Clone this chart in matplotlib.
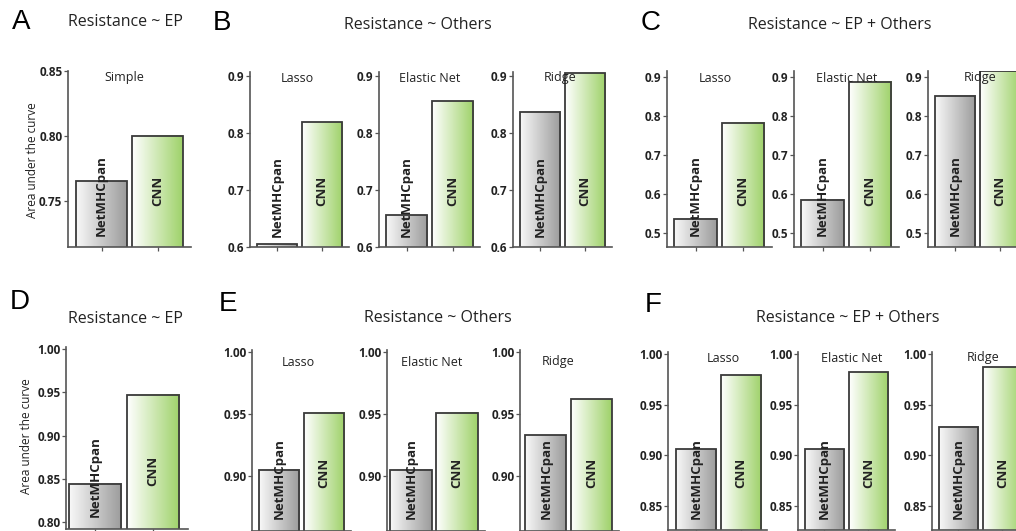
import matplotlib
matplotlib.use("Agg")
import matplotlib.pyplot as plt
import numpy as np
from matplotlib.colors import LinearSegmentedColormap

plt.rcParams['font.family'] = ['Open Sans', 'DejaVu Sans']

# data (AUC values)
models = ['NetMHCpan', 'CNN']
a_simple = [0.765, 0.800]
b_lasso = [0.605, 0.819]
b_enet = [0.656, 0.856]
b_ridge = [0.837, 0.905]
c_lasso = [0.537, 0.782]
c_enet = [0.585, 0.887]
c_ridge = [0.851, 0.915]
d_simple = [0.844, 0.947]
e_lasso = [0.905, 0.951]
e_enet = [0.905, 0.951]
e_ridge = [0.933, 0.962]
f_lasso = [0.906, 0.979]
f_enet = [0.906, 0.982]
f_ridge = [0.928, 0.987]

ticks_a = [0.75, 0.80, 0.85]
ticks_b = [0.6, 0.7, 0.8, 0.9]
ticks_c = [0.5, 0.6, 0.7, 0.8, 0.9]
ticks_d = [0.80, 0.85, 0.90, 0.95, 1.00]
ticks_e = [0.90, 0.95, 1.00]
ticks_f = [0.85, 0.90, 0.95, 1.00]

W, H = 1016, 531
fig = plt.figure(figsize=(W / 100, H / 100), dpi=100)

gray_cmap = LinearSegmentedColormap.from_list('g', ['#f8f8f8', '#9c9c9c'])
green_cmap = LinearSegmentedColormap.from_list('gr', ['#ffffff', '#9fd26a'])
grad = np.linspace(0, 1, 64).reshape(1, -1)
TXT = '#222222'
SPINE = '#555555'


def px_text(x, y, s, **kw):
    fig.text(x / W, 1 - y / H, s, **kw)


def panel(x_spine, ppu, y_top, y_bot, xlim, ylim, values, ticks, fmt):
    left = x_spine / W
    width = ppu * (xlim[1] - xlim[0]) / W
    ax = fig.add_axes([left, 1 - y_bot / H, width, (y_bot - y_top) / H])
    xs = np.arange(len(values))
    bw = 0.9
    for x, v, cm in zip(xs, values, [gray_cmap, green_cmap]):
        ax.imshow(grad, cmap=cm, aspect='auto', interpolation='bilinear',
                  extent=(x - bw / 2, x + bw / 2, 0, v), zorder=1)
    ax.bar(xs, values, width=bw, facecolor='none', edgecolor='#3a3a3a',
           linewidth=1.3, zorder=2)
    ax.set_xlim(*xlim)
    ax.set_ylim(*ylim)
    for sp in ['top', 'right']:
        ax.spines[sp].set_visible(False)
    for sp in ['left', 'bottom']:
        ax.spines[sp].set_color(SPINE)
        ax.spines[sp].set_linewidth(1.2)
    ax.set_xticks(xs)
    ax.set_xticklabels([])
    ax.set_yticks(ticks)
    ax.set_yticklabels([fmt.format(t) for t in ticks])
    ax.tick_params(axis='both', length=3, width=0.9, color=SPINE,
                   labelsize=8.5, labelcolor=TXT, pad=1)
    for lab in ax.get_yticklabels():
        lab.set_fontweight('bold')
    ax.patch.set_alpha(0)
    # model names inside the bars
    for x, name, fy in zip(xs, models, [0.29, 0.32]):
        ax.text(x, fy, name, transform=ax.get_xaxis_transform(),
                rotation=90, ha='center', va='center', fontsize=9.5,
                fontweight='bold', color=TXT, zorder=3)
    return ax


XL = (-0.6, 1.6)

# top row
panel(68, 56, 71, 247, XL, (0.7146, 0.85), a_simple, ticks_a, '{:.2f}')
panel(250, 45, 72, 247, XL, (0.6, 0.907), b_lasso, ticks_b, '{:.1f}')
panel(379, 46, 72, 247, XL, (0.6, 0.907), b_enet, ticks_b, '{:.1f}')
panel(513, 45, 72, 247, XL, (0.6, 0.907), b_ridge, ticks_b, '{:.1f}')
panel(667, 47.5, 71, 247, XL, (0.464, 0.915), c_lasso, ticks_c, '{:.1f}')
panel(794, 47.5, 71, 247, XL, (0.464, 0.915), c_enet, ticks_c, '{:.1f}')
panel(928, 45, 71, 247, XL, (0.464, 0.915), c_ridge, ticks_c, '{:.1f}')

# bottom row
panel(66, 58, 347, 529, (-0.5, 1.6), (0.792, 1.0023), d_simple, ticks_d, '{:.2f}')
panel(252, 45, 350, 531, XL, (0.8556, 1.0016), e_lasso, ticks_e, '{:.2f}')
panel(387, 46, 350, 531, (-0.52, 1.6), (0.8556, 1.0016), e_enet, ticks_e, '{:.2f}')
panel(520, 45.5, 350, 531, (-0.57, 1.6), (0.8556, 1.0016), e_ridge, ticks_e, '{:.2f}')
panel(668, 44.5, 352, 530, (-0.63, 1.6), (0.826, 1.002), f_lasso, ticks_f, '{:.2f}')
panel(798, 44, 352, 530, XL, (0.826, 1.002), f_enet, ticks_f, '{:.2f}')
panel(932, 44, 352, 530, XL, (0.826, 1.002), f_ridge, ticks_f, '{:.2f}')

# panel letters
for s, x, y in [('A', 21, 22), ('B', 222, 23), ('C', 651, 23),
                ('D', 20, 302), ('E', 228, 304), ('F', 653, 305)]:
    px_text(x, y, s, fontsize=20, ha='center', va='center', color='black',
            family='Liberation Sans')

# panel titles
px_text(68, 22, 'Resistance ~ EP', fontsize=11.5, ha='left', va='center', color=TXT)
px_text(418, 25, 'Resistance ~ Others', fontsize=11.5, ha='center', va='center', color=TXT)
px_text(840, 25, 'Resistance ~ EP + Others', fontsize=11.5, ha='center', va='center', color=TXT)
px_text(68, 319, 'Resistance ~ EP', fontsize=11.5, ha='left', va='center', color=TXT)
px_text(438, 318, 'Resistance ~ Others', fontsize=11.5, ha='center', va='center', color=TXT)
px_text(848, 318, 'Resistance ~ EP + Others', fontsize=11.5, ha='center', va='center', color=TXT)

# subplot labels
sub = [('Simple', 124, 78), ('Lasso', 297, 78), ('Elastic Net', 430, 78),
       ('Ridge', 560, 78), ('Lasso', 715, 78), ('Elastic Net', 847, 78),
       ('Ridge', 980, 78), ('Lasso', 298, 362), ('Elastic Net', 432, 362),
       ('Ridge', 558, 362), ('Lasso', 723, 358), ('Elastic Net', 852, 358),
       ('Ridge', 983, 358)]
for s, x, y in sub:
    px_text(x, y, s, fontsize=9, ha='center', va='center', color=TXT)

# y labels
px_text(32, 160, 'Area under the curve', fontsize=8.5, rotation=90,
        ha='center', va='center', color=TXT)
px_text(27, 436, 'Area under the curve', fontsize=8.5, rotation=90,
        ha='center', va='center', color=TXT)

fig.savefig('out.png', dpi=100)
